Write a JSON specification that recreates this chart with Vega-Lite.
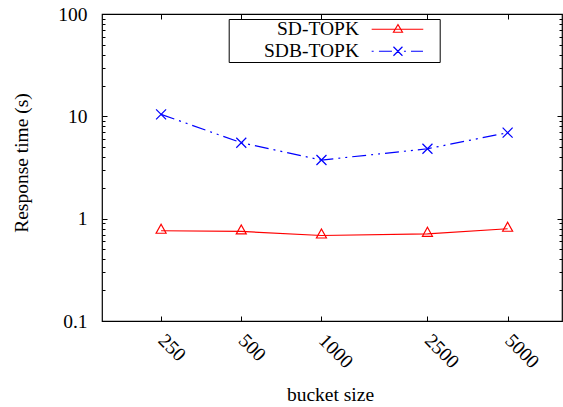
{
  "$schema": "https://vega.github.io/schema/vega-lite/v6.json",
  "width": 460,
  "height": 307,
  "autosize": {"type": "none"},
  "padding": {"left": 102, "top": 14, "right": 1, "bottom": 86},
  "background": "white",
  "config": {
    "font": "Liberation Serif, Times New Roman, Times, DejaVu Serif, serif",
    "view": {"stroke": "#000", "strokeWidth": 1.2},
    "axis": {
      "grid": false,
      "domain": false,
      "tickColor": "#000",
      "tickWidth": 1,
      "labelColor": "#000",
      "titleColor": "#000",
      "labelFont": "Liberation Serif, Times New Roman, Times, DejaVu Serif, serif",
      "titleFont": "Liberation Serif, Times New Roman, Times, DejaVu Serif, serif",
      "labelFontSize": 19.5,
      "titleFontSize": 19.5,
      "titleFontWeight": "normal"
    },
    "legend": {
      "labelFont": "Liberation Serif, Times New Roman, Times, DejaVu Serif, serif"
    }
  },
  "data": {
    "values": [
      {"method": "SD-TOPK", "bucket": 250, "time": 0.762},
      {"method": "SD-TOPK", "bucket": 500, "time": 0.75},
      {"method": "SD-TOPK", "bucket": 1000, "time": 0.685},
      {"method": "SD-TOPK", "bucket": 2500, "time": 0.711},
      {"method": "SD-TOPK", "bucket": 5000, "time": 0.797},
      {"method": "SDB-TOPK", "bucket": 250, "time": 10.46},
      {"method": "SDB-TOPK", "bucket": 500, "time": 5.52},
      {"method": "SDB-TOPK", "bucket": 1000, "time": 3.74},
      {"method": "SDB-TOPK", "bucket": 2500, "time": 4.82},
      {"method": "SDB-TOPK", "bucket": 5000, "time": 6.92}
    ]
  },
  "layer": [
    {
      "transform": [{"filter": "datum.method == 'SD-TOPK'"}],
      "mark": {"type": "line", "strokeWidth": 1.2, "color": "#ff0000"},
      "encoding": {
        "x": {
          "field": "bucket", "type": "quantitative",
          "scale": {"type": "log", "domain": [150, 8000], "nice": false},
          "axis": {
            "orient": "bottom",
            "values": [250, 500, 1000, 2500, 5000],
            "format": "d",
            "labelAngle": 45,
            "labelAlign": "left",
            "labelBaseline": "middle",
            "labelPadding": 21,
            "tickSize": -5,
            "title": "bucket size",
            "titleX": 228,
            "titleY": 79.7,
            "titleBaseline": "alphabetic",
            "titleAlign": "center"
          }
        },
        "y": {
          "field": "time", "type": "quantitative",
          "scale": {"type": "log", "domain": [0.1, 100], "nice": false},
          "axis": {
            "orient": "left",
            "values": [0.1,0.2,0.3,0.4,0.5,0.6,0.7,0.8,0.9,1,2,3,4,5,6,7,8,9,10,20,30,40,50,60,70,80,90,100],
            "labelExpr": "datum.value==0.1?'0.1':datum.value==1?'1':datum.value==10?'10':datum.value==100?'100':''",
            "tickSize": {"condition": {"test": "datum.value==0.1||datum.value==1||datum.value==10||datum.value==100", "value": -5}, "value": -3},
            "labelPadding": 20,
            "labelAlign": "right",
            "labelBaseline": "middle",
            "labelFlush": false,
            "labelOverlap": false,
            "title": "Response time (s)",
            "titleX": -75,
            "titleY": 148.5,
            "titleAngle": -90,
            "titleBaseline": "alphabetic",
            "titleAlign": "center"
          }
        }
      }
    },
    {
      "transform": [{"filter": "datum.method == 'SDB-TOPK'"}],
      "mark": {"type": "line", "strokeWidth": 1.2, "color": "#0000ff", "strokeDash": [14, 5, 2, 5, 2, 5]},
      "encoding": {
        "x": {"field": "bucket", "type": "quantitative", "axis": null},
        "y": {"field": "time", "type": "quantitative", "axis": null}
      }
    },
    {
      "transform": [{"filter": "datum.method == 'SD-TOPK'"}],
      "mark": {"type": "point", "filled": false, "strokeWidth": 1.2, "size": 100, "opacity": 1, "color": "#ff0000", "shape": "M0,-1.3L1,0.5L-1,0.5Z"},
      "encoding": {
        "x": {
          "field": "bucket", "type": "quantitative",
          "axis": {
            "orient": "top",
            "values": [250, 500, 1000, 2500, 5000],
            "labels": false,
            "tickSize": -5,
            "title": null
          }
        },
        "y": {
          "field": "time", "type": "quantitative",
          "axis": {
            "orient": "right",
            "values": [0.1,0.2,0.3,0.4,0.5,0.6,0.7,0.8,0.9,1,2,3,4,5,6,7,8,9,10,20,30,40,50,60,70,80,90,100],
            "labels": false,
            "tickSize": {"condition": {"test": "datum.value==0.1||datum.value==1||datum.value==10||datum.value==100", "value": -5}, "value": -3},
            "title": null
          }
        }
      }
    },
    {
      "transform": [{"filter": "datum.method == 'SDB-TOPK'"}],
      "mark": {"type": "point", "filled": false, "strokeWidth": 1.2, "size": 100, "opacity": 1, "color": "#0000ff", "shape": "M-1,-1L1,1M-1,1L1,-1"},
      "encoding": {
        "x": {"field": "bucket", "type": "quantitative", "axis": null},
        "y": {"field": "time", "type": "quantitative", "axis": null}
      }
    },
    {
      "transform": [{"filter": "false"}],
      "mark": {"type": "point", "filled": false, "strokeWidth": 1.2, "opacity": 1},
      "encoding": {
        "x": {"field": "bucket", "type": "quantitative", "axis": null},
        "y": {"field": "time", "type": "quantitative", "axis": null},
        "color": {
          "field": "method", "type": "nominal",
          "scale": {"domain": ["SD-TOPK", "SDB-TOPK"], "range": ["#ff0000", "#0000ff"]},
          "legend": {
            "title": null, "orient": "none", "legendX": 126.7, "legendY": 5, "direction": "vertical",
            "strokeColor": "#000", "padding": 0.5, "rowPadding": 1,
            "symbolSize": 144, "symbolStrokeWidth": 1.2, "symbolOffset": 159,
            "labelOffset": -48.7, "labelAlign": "right", "labelBaseline": "middle",
            "labelFontSize": 19.5, "labelColor": "#000", "labelLimit": 300
          }
        },
        "shape": {
          "field": "method", "type": "nominal",
          "scale": {"domain": ["SD-TOPK", "SDB-TOPK"], "range": [
            "M-4.38,0H4.22M0,-0.78L0.75,0.5L-0.75,0.5ZM6.37,0",
            "M-4.38,0H-4.05M-3.17,0H-1.0M1.0,0H1.33M2.17,0H4.17M-0.75,-0.75L0.75,0.75M-0.75,0.75L0.75,-0.75M6.37,0"
          ]},
          "legend": {
            "title": null, "orient": "none", "legendX": 126.7, "legendY": 5, "direction": "vertical",
            "strokeColor": "#000", "padding": 0.5, "rowPadding": 1,
            "symbolSize": 144, "symbolStrokeWidth": 1.2, "symbolOffset": 159,
            "labelOffset": -48.7, "labelAlign": "right", "labelBaseline": "middle",
            "labelFontSize": 19.5, "labelColor": "#000", "labelLimit": 300
          }
        }
      }
    }
  ],
  "resolve": {"axis": {"x": "independent", "y": "independent"}}
}
